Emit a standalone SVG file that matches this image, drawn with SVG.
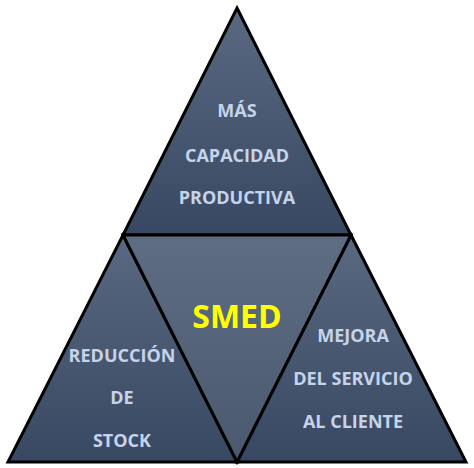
<svg xmlns="http://www.w3.org/2000/svg" width="474" height="468" viewBox="0 0 474 468">
<defs>
<linearGradient id="gUp" x1="0" y1="0" x2="0" y2="1">
<stop offset="0" stop-color="#5a6981"/>
<stop offset="1" stop-color="#394862"/>
</linearGradient>
<linearGradient id="gDown" x1="0" y1="0" x2="0" y2="1">
<stop offset="0" stop-color="#5f6d84"/>
<stop offset="1" stop-color="#4a5870"/>
</linearGradient>
<style>
.tri{stroke:#000;stroke-width:3;stroke-linejoin:miter}
.t{font-family:"Open Sans","Liberation Sans",sans-serif;font-weight:bold;font-size:18px;fill:#c6d4ea;text-anchor:middle}
.s{font-family:"Open Sans","Liberation Sans",sans-serif;font-weight:bold;font-size:32px;fill:#ffff00;text-anchor:middle}
</style>
</defs>
<g id="top">
<polygon class="tri" points="237,8 351,235 123,235" fill="url(#gUp)"/>
<text class="t" x="237" y="117">MÁS</text>
<text class="t" x="237" y="162">CAPACIDAD</text>
<text class="t" x="237" y="204">PRODUCTIVA</text>
</g>
<g id="left">
<polygon class="tri" points="123,235 237,462 8,462" fill="url(#gUp)"/>
<text class="t" x="122" y="362">REDUCCIÓN</text>
<text class="t" x="122" y="404">DE</text>
<text class="t" x="122" y="447">STOCK</text>
</g>
<g id="right">
<polygon class="tri" points="351,235 466,462 237,462" fill="url(#gUp)"/>
<text class="t" x="353" y="342">MEJORA</text>
<text class="t" x="353" y="385">DEL SERVICIO</text>
<text class="t" x="353" y="428">AL CLIENTE</text>
</g>
<g id="center">
<polygon class="tri" points="123,235 351,235 237,462" fill="url(#gDown)"/>
<text class="s" x="237" y="328">SMED</text>
</g>
<g id="connectors"/>
</svg>
